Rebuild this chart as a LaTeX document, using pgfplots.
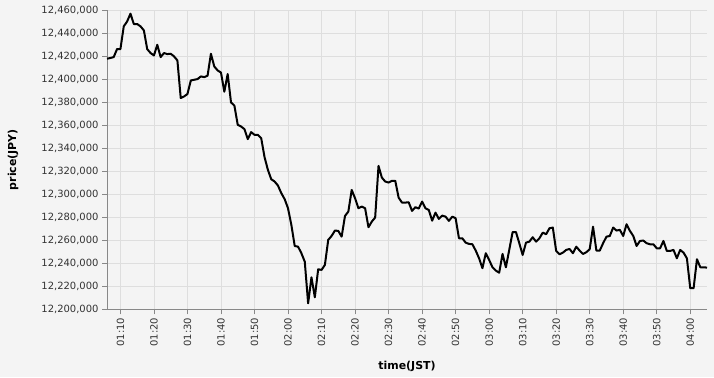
\documentclass[border=0pt]{standalone}
\usepackage{pgfplots}
\pgfplotsset{compat=1.18}
\usepackage{fontspec}
\setmainfont{DejaVu Sans}
\definecolor{bg}{RGB}{244,244,244}
\definecolor{gridc}{RGB}{222,222,222}
\definecolor{axc}{RGB}{136,136,136}
\definecolor{lblc}{RGB}{51,51,51}
\begin{document}
\begin{tikzpicture}[x=1bp,y=1bp]
\path[use as bounding box, fill=bg] (0,0) rectangle (714,377);
\begin{axis}[
  at={(107bp,67.7bp)}, anchor=south west,
  scale only axis, width=600bp, height=299.3bp,
  xmin=6, xmax=185, ymin=12200000, ymax=12460000,
  axis lines*=left,
  axis line style={color=axc, line width=0.8bp},
  tick align=outside, major tick length=5bp,
  tick style={color=axc, line width=0.8bp},
  grid=major, major grid style={color=gridc, line width=0.8bp},
  ytick={12200000,12220000,12240000,12260000,12280000,12300000,12320000,12340000,12360000,12380000,12400000,12420000,12440000,12460000},
  yticklabels={{12,200,000},{12,220,000},{12,240,000},{12,260,000},{12,280,000},{12,300,000},{12,320,000},{12,340,000},{12,360,000},{12,380,000},{12,400,000},{12,420,000},{12,440,000},{12,460,000}},
  scaled y ticks=false,
  yticklabel style={font=\fontsize{10}{12}\selectfont, color=lblc},
  xtick={10,20,...,180},
  xticklabels={01:10,01:20,01:30,01:40,01:50,02:00,02:10,02:20,02:30,02:40,02:50,03:00,03:10,03:20,03:30,03:40,03:50,04:00},
  xticklabel style={rotate=90, anchor=east, font=\fontsize{10}{12}\selectfont, color=lblc},
  xlabel={time(JST)},
  ylabel={price(JPY)},
  xlabel style={at={(axis description cs:0.5,-0.1894)}, anchor=center, font=\bfseries\fontsize{11}{13}\selectfont},
  ylabel style={at={(axis description cs:-0.1567,0.5)}, anchor=center, font=\bfseries\fontsize{11}{13}\selectfont},
  clip=false,
]
\addplot[black, line width=2bp, line join=round, mark=none] coordinates {
(6,12417700)(7,12418300)(8,12419100)(9,12426100)(10,12426000)
(11,12445800)(12,12450000)(13,12456800)(14,12447800)(15,12447800)
(16,12445800)(17,12442300)(18,12426000)(19,12422600)(20,12420500)
(21,12429800)(22,12419100)(23,12422600)(24,12421700)(25,12422000)
(26,12419700)(27,12416200)(28,12383500)(29,12384900)(30,12387000)
(31,12398800)(32,12399400)(33,12400000)(34,12402300)(35,12401700)
(36,12402900)(37,12422000)(38,12411000)(39,12407500)(40,12405700)
(41,12389000)(42,12404400)(43,12379700)(44,12377000)(45,12360300)
(46,12358800)(47,12356500)(48,12347800)(49,12353900)(50,12351600)
(51,12351600)(52,12348700)(53,12332200)(54,12321100)(55,12313000)
(56,12311000)(57,12307500)(58,12300900)(59,12295700)(60,12287800)
(61,12273300)(62,12255000)(63,12254400)(64,12248700)(65,12241400)
(66,12205200)(67,12227800)(68,12210400)(69,12234800)(70,12234200)
(71,12238500)(72,12260300)(73,12263700)(74,12268400)(75,12268100)
(76,12263100)(77,12281100)(78,12284900)(79,12303700)(80,12296500)
(81,12287800)(82,12289200)(83,12287800)(84,12271300)(85,12276200)
(86,12279700)(87,12324600)(88,12314400)(89,12311000)(90,12310100)
(91,12311600)(92,12311600)(93,12297000)(94,12292700)(95,12292700)
(96,12293000)(97,12285500)(98,12288700)(99,12287500)(100,12293600)
(101,12287800)(102,12286300)(103,12277000)(104,12284000)(105,12278500)
(106,12281400)(107,12280500)(108,12276800)(109,12280500)(110,12279100)
(111,12261700)(112,12261700)(113,12257900)(114,12256800)(115,12256500)
(116,12251000)(117,12244300)(118,12235700)(119,12248700)(120,12242900)
(121,12236500)(122,12233600)(123,12231800)(124,12248100)(125,12236500)
(126,12251600)(127,12267000)(128,12267100)(129,12257400)(130,12247200)
(131,12257900)(132,12258800)(133,12262600)(134,12258800)(135,12261700)
(136,12266600)(137,12265200)(138,12270400)(139,12271000)(140,12250700)
(141,12247800)(142,12249200)(143,12251600)(144,12252400)(145,12248700)
(146,12254400)(147,12251000)(148,12248100)(149,12249600)(150,12252200)
(151,12271800)(152,12251000)(153,12251000)(154,12257400)(155,12263100)
(156,12263700)(157,12271000)(158,12268400)(159,12269000)(160,12263700)
(161,12273900)(162,12268100)(163,12263700)(164,12255000)(165,12259400)
(166,12259700)(167,12257400)(168,12256500)(169,12256500)(170,12253000)
(171,12253000)(172,12259400)(173,12250700)(174,12250700)(175,12251600)
(176,12244300)(177,12251600)(178,12249200)(179,12244300)(180,12218300)
(181,12218300)(182,12243500)(183,12236500)(184,12236500)(185,12236200)
};
\end{axis}
\end{tikzpicture}
\end{document}
